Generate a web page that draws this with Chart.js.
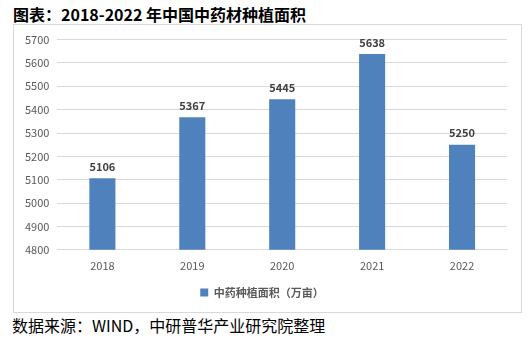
<!DOCTYPE html>
<html>
<head>
<meta charset="utf-8">
<script src="https://cdn.jsdelivr.net/npm/chart.js@4.4.0/dist/chart.umd.min.js"></script>
<style>
  body { margin: 0; background: #fff; width: 529px; height: 338px; position: relative; overflow: hidden; }
  #title { position: absolute; left: 13px; top: 2px; font: bold 16px "Noto Sans CJK SC", sans-serif; color: #000; }
  #box { position: absolute; left: 13px; top: 24px; width: 507px; height: 287px; border: 1px solid #d9d9d9; }
  #source { position: absolute; left: 12px; top: 313px; font: 16px "Noto Sans CJK SC", sans-serif; color: #000; }
</style>
</head>
<body>
<div id="title">图表：2018-2022 年中国中药材种植面积</div>
<div id="box"><canvas id="chartA"></canvas></div>
<div id="source">数据来源：WIND，中研普华产业研究院整理</div>
<script>
const years = ['2018', '2019', '2020', '2021', '2022'];
const area = [5106, 5367, 5445, 5638, 5250];
const seriesName = '中药种植面积（万亩）';

const valueLabels = {
    id: 'valueLabels',
    afterDatasetsDraw(chart) {
        const ctx = chart.ctx;
        const meta = chart.getDatasetMeta(0);
        ctx.save();
        ctx.font = 'bold 11px "Noto Sans CJK SC", sans-serif';
        ctx.fillStyle = '#404040';
        ctx.textAlign = 'center';
        ctx.textBaseline = 'bottom';
        meta.data.forEach((bar, i) => {
            ctx.fillText(area[i], bar.x, bar.y - 6);
        });
        ctx.restore();
    }
};

const chartEle = document.getElementById('chartA').getContext('2d');
const chartA = new Chart(chartEle, {
    type: 'bar',
    data: {
        labels: years,
        datasets: [{
            label: seriesName,
            data: area,
            backgroundColor: '#4f81bd',
            categoryPercentage: 1,
            barPercentage: 0.29,
        }],
    },
    options: {
        responsive: true,
        maintainAspectRatio: false,
        animation: false,
        layout: { padding: { left: 3, right: 14, top: 8, bottom: 4 } },
        scales: {
            x: {
                grid: { display: false },
                border: { color: '#d9d9d9' },
                ticks: { color: '#595959', padding: 1, font: { size: 11, family: 'Noto Sans CJK SC' } },
            },
            y: {
                min: 4800,
                max: 5700,
                ticks: {
                    stepSize: 100,
                    color: '#595959',
                    padding: 8,
                    font: { size: 11, family: 'Noto Sans CJK SC' },
                    callback: v => String(v),
                },
                grid: { color: '#d9d9d9', drawTicks: false },
                border: { display: false },
            },
        },
        plugins: {
            legend: {
                position: 'bottom',
                labels: {
                    boxWidth: 8,
                    boxHeight: 8,
                    color: '#595959',
                    padding: 14,
                    font: { size: 11, weight: 'bold', family: 'Noto Sans CJK SC' },
                },
            },
            tooltip: { enabled: false },
        },
    },
    plugins: [valueLabels],
});
</script>
</body>
</html>
